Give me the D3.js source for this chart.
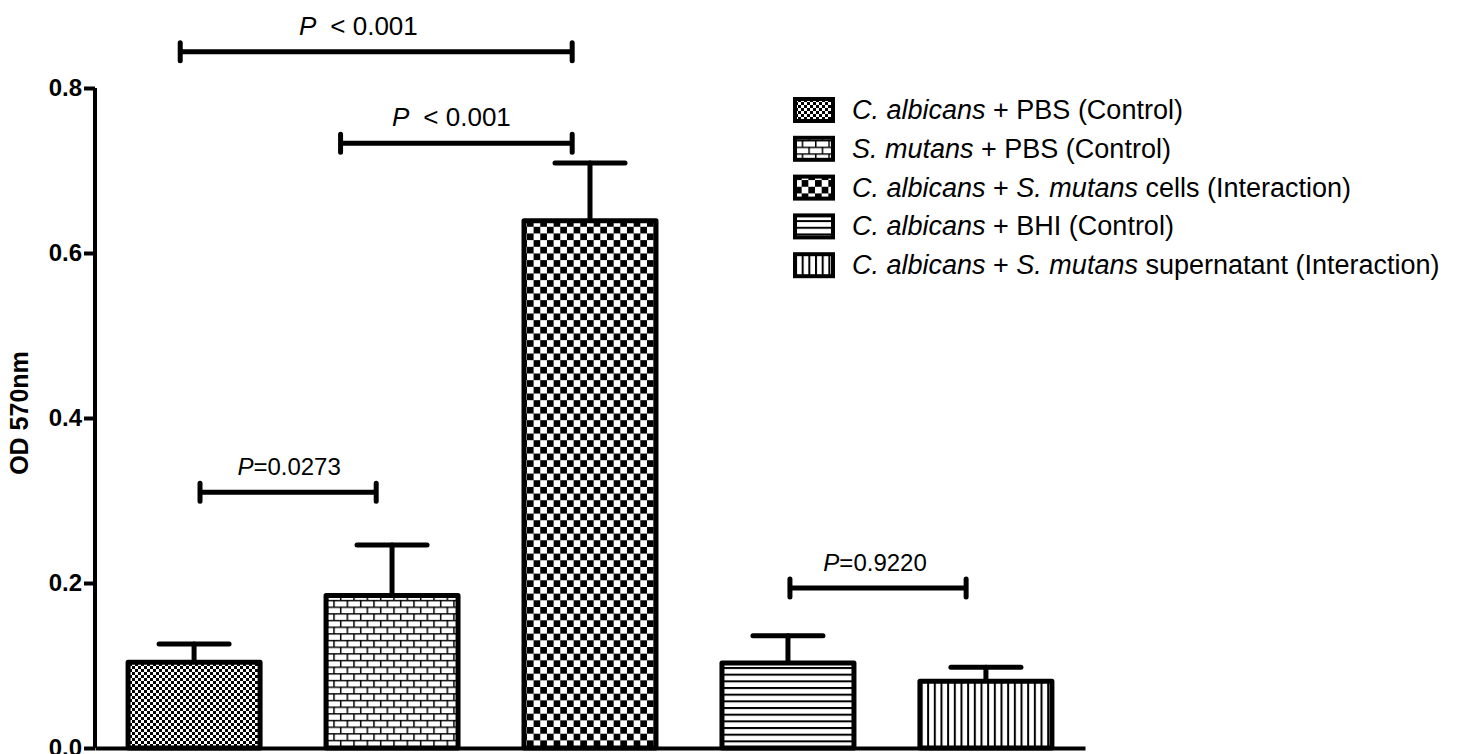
<!DOCTYPE html>
<html>
<head>
<meta charset="utf-8">
<script src="https://cdn.jsdelivr.net/npm/d3@7"></script>
<style>
  body { margin: 0; background: #fff; }
  svg { display: block; font-family: Arial, "Liberation Sans", sans-serif; }
</style>
</head>
<body>
<svg id="chart" width="1467" height="754"></svg>
<script>
// data
var groups = ['ca_pbs', 'sm_pbs', 'ca_sm_cells', 'ca_bhi', 'ca_sm_sup']
var means = [0.104, 0.185, 0.639, 0.103, 0.081]
var errs = [0.022, 0.061, 0.070, 0.033, 0.017]
var yTicks = [0.0, 0.2, 0.4, 0.6, 0.8]
var legendLabels = [
  [['C. albicans', true], [' + PBS (Control)', false]],
  [['S. mutans', true], [' + PBS (Control)', false]],
  [['C. albicans', true], [' + ', false], ['S. mutans', true], [' cells (Interaction)', false]],
  [['C. albicans', true], [' + BHI (Control)', false]],
  [['C. albicans', true], [' + ', false], ['S. mutans', true], [' supernatant (Interaction)', false]]
]
// comparisons: from / to (group index), height (OD), label centre (group index)
var cmpFrom = [-0.07, 0.74, 0.03, 3.01]
var cmpTo = [1.91, 1.91, 0.92, 3.90]
var cmpY = [0.844, 0.733, 0.310, 0.194]
var cmpMid = [0.83, 1.30, 0.48, 3.44]
var cmpP = [['P', '< 0.001'], ['P', '< 0.001'], ['P', '=0.0273'], ['P', '=0.9220']]

var svg = d3.select('#chart')
  , plotL = 95
  , plotR = 1085
  , plotT = 88
  , plotB = 748

var y = d3.scaleLinear().domain([0, 0.8]).range([plotB, plotT])
var x = d3.scaleBand().domain(groups).range([plotL, plotR])
  .paddingInner(0.313).paddingOuter(0.157)
var bw = x.bandwidth()
var xi = d3.scaleLinear().domain([0, groups.length - 1])
  .range([x(groups[0]) + bw / 2, x(groups[groups.length - 1]) + bw / 2])

// fill patterns
var defs = svg.append('defs')
function pattern(id, size){
  var p = defs.append('pattern').attr('id', id)
    .attr('patternUnits', 'userSpaceOnUse')
    .attr('width', size).attr('height', size)
  p.append('rect').attr('width', size).attr('height', size).attr('fill', '#fff')
  return p
}
function checker(id, c){
  var p = pattern(id, c * 2)
  p.append('rect').attr('width', c).attr('height', c)
  p.append('rect').attr('x', c).attr('y', c).attr('width', c).attr('height', c)
}
checker('pat0', 3)
checker('pat2', 6.67)

var s = 13.33
var brick = pattern('pat1', s)
brick.append('path')
  .attr('d', 'M0,0.75H' + s + 'M0,' + (s/2 + 0.75) + 'H' + s
    + 'M0.75,0V' + (s/2) + 'M' + (s/2 + 0.75) + ',' + (s/2) + 'V' + s)
  .attr('stroke', '#000').attr('stroke-width', 1.5)

var hl = pattern('pat3', 6.67)
hl.append('path').attr('d', 'M0,1H6.67').attr('stroke', '#000').attr('stroke-width', 2)
var vl = pattern('pat4', 6.67)
vl.append('path').attr('d', 'M1,0V6.67').attr('stroke', '#000').attr('stroke-width', 2)

// axes
var yAxis = svg.append('g')
  .attr('transform', 'translate(' + plotL + ',0)')
  .call(d3.axisLeft(y).tickValues(yTicks).tickFormat(d3.format('.1f')).tickSize(11).tickPadding(2))
yAxis.selectAll('path, line').attr('stroke', '#000').attr('stroke-width', 4)
yAxis.select('.domain').attr('d', 'M0,' + plotT + 'V' + plotB)
yAxis.selectAll('text')
  .attr('fill', '#000').style('font-size', '24px').style('font-weight', 'bold')
  .style('font-family', 'Arial, "Liberation Sans", sans-serif')

svg.append('text')
  .attr('transform', 'translate(28,413) rotate(-90)')
  .attr('text-anchor', 'middle')
  .style('font-size', '25px').style('font-weight', 'bold')
  .text('OD 570nm')

// error bars (behind the bars)
var eb = svg.append('g').attr('stroke', '#000').attr('stroke-width', 5).attr('stroke-linecap', 'round')
groups.forEach(function(g, i){
  var cx = x(g) + bw / 2
  eb.append('line').attr('x1', cx).attr('x2', cx)
    .attr('y1', y(means[i])).attr('y2', y(means[i] + errs[i]))
  eb.append('line').attr('x1', cx - 35).attr('x2', cx + 35)
    .attr('y1', y(means[i] + errs[i])).attr('y2', y(means[i] + errs[i]))
})

svg.append('g').selectAll('rect').data(groups)
  .enter().append('rect')
    .attr('x', function(d){ return x(d) + 2 })
    .attr('width', bw - 4)
    .attr('y', function(d, i){ return y(means[i]) })
    .attr('height', function(d, i){ return plotB - y(means[i]) })
    .attr('fill', function(d, i){ return 'url(#pat' + i + ')' })
    .attr('stroke', '#000').attr('stroke-width', 5).attr('stroke-linejoin', 'round')

var xAxis = svg.append('g')
  .attr('transform', 'translate(0,' + plotB + ')')
  .call(d3.axisBottom(x).tickSize(0).tickSizeOuter(0).tickFormat(''))
xAxis.select('.domain').attr('stroke', '#000').attr('stroke-width', 4)

// significance brackets
var br = svg.append('g')
cmpFrom.forEach(function(f, i){
  var x1 = xi(f), x2 = xi(cmpTo[i]), yy = y(cmpY[i])
    , lt = cmpP[i][1][0] == '<'
  br.append('path')
    .attr('d', 'M' + x1 + ',' + yy + 'H' + x2
      + 'M' + x1 + ',' + (yy - 9) + 'V' + (yy + 9)
      + 'M' + x2 + ',' + (yy - 9) + 'V' + (yy + 9))
    .attr('fill', 'none').attr('stroke', '#000').attr('stroke-width', 5).attr('stroke-linecap', 'round')
  var t = br.append('text')
    .attr('x', xi(cmpMid[i])).attr('y', yy - 17)
    .attr('text-anchor', 'middle').style('font-size', lt ? '26px' : '24px')
  t.append('tspan').style('font-style', 'italic').text(cmpP[i][0])
  t.append('tspan').attr('dx', lt ? 14 : 0).text(cmpP[i][1])
})

// legend
var lg = svg.append('g').attr('transform', 'translate(795,0)')
legendLabels.forEach(function(parts, i){
  var cy = 110 + i * 38.8
  lg.append('rect')
    .attr('x', 0).attr('y', cy - 11).attr('width', 38).attr('height', 22)
    .attr('fill', 'url(#pat' + i + ')')
    .attr('stroke', '#000').attr('stroke-width', 4)
  var t = lg.append('text').attr('x', 57).attr('y', cy + 9).style('font-size', '27px')
  parts.forEach(function(p){
    t.append('tspan').style('font-style', p[1] ? 'italic' : 'normal').text(p[0])
  })
})
</script>
</body>
</html>
